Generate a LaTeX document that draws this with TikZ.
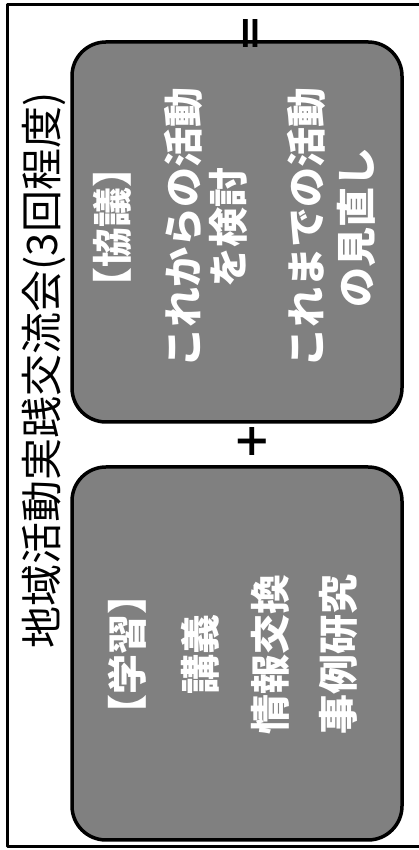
\documentclass[tikz,border=0pt]{standalone}
\usepackage{fontspec}
\setmainfont{Noto Sans CJK JP}
\usetikzlibrary{positioning}
\tikzset{every picture/.style={line cap=round, line join=round}}
\tikzset{panel/.style={draw, line width=3.5pt, rounded corners=34pt, fill=black!50,
  minimum width=330pt, inner sep=0pt}}
\tikzset{vline/.style={rotate=90, text=white, inner sep=0pt,
  font=\fontsize{40}{44}\selectfont\bfseries}}
\tikzset{sign/.style={rotate=90, inner sep=0pt, font=\fontsize{40}{44}\selectfont\bfseries}}

\begin{document}
\begin{tikzpicture}[x=1pt, y=1pt]
  \useasboundingbox (0,0) rectangle (419,850);
  % 外枠
  \draw[line width=3pt] (7,3) rectangle (430,845);

  % タイトル
  \node[rotate=90, inner sep=0pt, font=\fontsize{42}{46}\selectfont] (title) at (44,479.5)
       {地域活動実践交流会(3回程度)};

  % 協議
  \node[panel, minimum height=380pt] (kyogi) at (237,618) {};
  \node[vline] (k1) at (112,622) {【協議】};
  \node[vline] (k2) at (183,622) {これからの活動};
  \node[vline] (k3) at (228,622) {を検討};
  \node[vline] (k4) at (306,622) {これまでの活動};
  \node[vline] (k5) at (356,622) {の見直し};

  % 学習
  \node[panel, minimum height=373pt] (gakushu) at (237,196.5) {};
  \node[vline] (g1) at (127,195) {【学習】};
  \node[vline] (g2) at (200,195) {講義};
  \node[vline] (g3) at (270,195) {情報交換};
  \node[vline] (g4) at (338,195) {事例研究};

  % 記号
  \node[sign] (plus) at (253,408) {＋};
  \node[sign] (eq) at (255,816) {＝};
\end{tikzpicture}
\end{document}
